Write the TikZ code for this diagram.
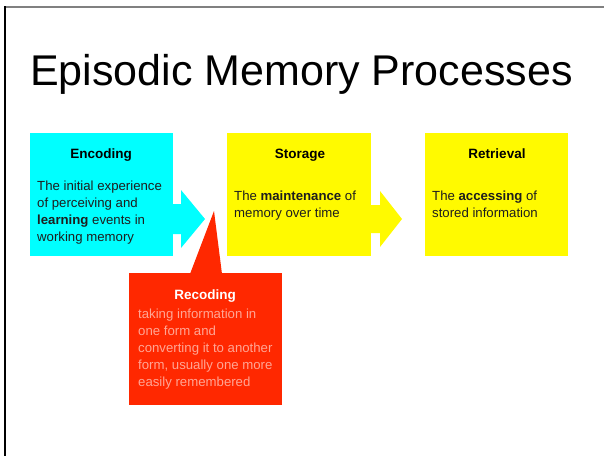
\documentclass[tikz,border=0pt]{standalone}
\usepackage{fontspec}
\setmainfont{Liberation Sans}
\definecolor{enccyan}{RGB}{0,255,255}
\definecolor{styellow}{RGB}{255,250,0}
\definecolor{recred}{RGB}{255,40,0}
\definecolor{rectxt}{RGB}{255,165,148}
\definecolor{bodygray}{RGB}{30,30,30}
\tikzset{
  boxfill/.style={draw=none, inner sep=0pt, anchor=north west},
  headtxt/.style={inner sep=0pt, anchor=base, font=\fontsize{13.5}{16}\selectfont\bfseries},
  bodytxt/.style={inner sep=0pt, anchor=base west, text=bodygray, font=\fontsize{13.2}{16}\selectfont},
}
\begin{document}
\begin{tikzpicture}[x=1pt,y=-1pt]
\useasboundingbox (0,0) rectangle (604,456);
\fill[white] (0,0) rectangle (604,456);
% frame
\draw[line width=2pt, color={rgb,255:red,128;green,128;blue,128}] (5,7) -- (604,7);
\draw[line width=1.2pt, black] (5,6) -- (5,456);
% title
\node[inner sep=0pt, anchor=base west, font=\fontsize{43}{50}\selectfont] (title) at (30,85) {Episodic Memory Processes};

% Encoding
\node[boxfill, fill=enccyan, minimum width=143pt, minimum height=123pt] (enc) at (30,133) {};
\fill[enccyan] (172,204) -- (181,204) -- (181,190) -- (205,219) -- (181,248) -- (181,234) -- (172,234) -- cycle;
\node[headtxt] (enchead) at (101,158) {Encoding};
\foreach \t [count=\i] in {{The initial experience},{of perceiving and},{\textbf{learning} events in},{working memory}}
  \node[bodytxt] (enc\i) at (37,{190+17*(\i-1)}) {\t};

% Storage
\node[boxfill, fill=styellow, minimum width=144pt, minimum height=123pt] (sto) at (227,133) {};
\fill[styellow] (370,205) -- (380,205) -- (380,191) -- (402,219) -- (380,247) -- (380,233) -- (370,233) -- cycle;
\node[headtxt] (stohead) at (300,158) {Storage};
\foreach \t [count=\i] in {{The \textbf{maintenance} of},{memory over time}}
  \node[bodytxt] (sto\i) at (234,{200+17*(\i-1)}) {\t};

% Retrieval
\node[boxfill, fill=styellow, minimum width=143pt, minimum height=123pt] (ret) at (425,133) {};
\node[headtxt] (rethead) at (497,158) {Retrieval};
\foreach \t [count=\i] in {{The \textbf{accessing} of},{stored information}}
  \node[bodytxt] (ret\i) at (432,{200+17*(\i-1)}) {\t};

% Recoding
\node[boxfill, fill=recred, minimum width=153pt, minimum height=132pt] (rec) at (129,273) {};
\fill[recred] (190,274) -- (214,211) -- (222,274) -- cycle;
\node[headtxt, text=white] (rechead) at (205,299) {Recoding};
\foreach \t [count=\i] in {{taking information in},{one form and},{converting it to another},{form, usually one more},{easily remembered}}
  \node[bodytxt, text=rectxt] (rec\i) at (138,{318+17.2*(\i-1)}) {\t};
\end{tikzpicture}
\end{document}
